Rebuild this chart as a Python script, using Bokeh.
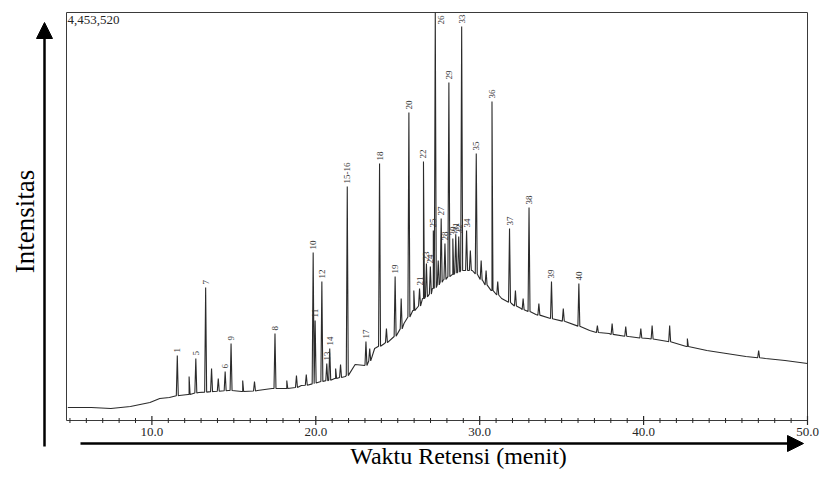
import math
from bokeh.plotting import figure
from bokeh.models import Range1d, Arrow, NormalHead, ColumnDataSource
from bokeh.core.properties import value
from bokeh.embed import file_html
from bokeh.resources import INLINE

# ---------------- data ----------------
Y_MAX = 4453520          # intensity at the top of the frame
X_MIN, X_MAX = 4.79, 50.0  # retention time window (minutes)

# baseline / hump of the trace
base_time = [4.87, 6.30, 7.50, 8.69, 9.28, 9.88, 10.48, 11.07, 11.67, 12.27, 12.86,
             13.76, 14.65, 15.54, 16.44, 17.33, 18.23, 19.12, 20.02, 21.21, 21.80,
             22.40, 23.00, 23.59, 24.19, 24.78, 25.38, 25.98, 26.57, 27.17, 27.76,
             28.36, 28.96, 29.55, 30.15, 30.75, 31.34, 31.94, 32.53, 33.43, 34.32,
             35.22, 36.11, 36.71, 37.90, 39.09, 40.28, 41.48, 42.67, 43.86, 45.05,
             46.24, 47.44, 48.63, 50.00]
base_int = [141900, 141900, 131000, 152800, 174600, 196500, 240100, 251100, 272900,
            283800, 305600, 316500, 327500, 316500, 327500, 349300, 349300, 382000,
            414800, 458500, 480300, 611300, 600300, 785900, 840500, 916900, 1058800,
            1200700, 1331700, 1440800, 1528200, 1593700, 1637300, 1637300, 1528200,
            1419000, 1331700, 1277100, 1222500, 1157000, 1113400, 1080600, 1026100,
            982400, 949600, 916900, 895100, 862300, 807700, 764100, 731300, 698600,
            676800, 654900, 622200]

# labelled peaks
peak_label = ["1", "5", "7", "6", "9", "8", "10", "11", "12", "13", "14", "15-16",
              "17", "18", "19", "20", "21", "22", "23", "24", "25", "26", "27", "28",
              "29", "30", "31", "32", "33", "34", "35", "36", "37", "38", "39", "40"]
peak_time = [11.55, 12.68, 13.28, 14.47, 14.83, 17.51, 19.84, 19.96, 20.37, 20.67,
             20.85, 21.92, 23.06, 23.89, 24.84, 25.68, 26.33, 26.57, 26.75, 26.99,
             27.17, 27.29, 27.65, 27.88, 28.12, 28.36, 28.54, 28.72, 28.90, 29.20,
             29.79, 30.75, 31.82, 33.01, 34.38, 36.05]
peak_top = [709500, 676800, 1451800, 534900, 840500, 949600, 1833800, 1091500,
            1517300, 622200, 785900, 2554200, 862300, 2805300, 1571800, 3362000,
            1440800, 2827100, 1713700, 1681000, 2073900, 4453520, 2204900, 1932000,
            3689400, 1986600, 2030300, 2008400, 4300700, 2073900, 2914400, 3482000,
            2095800, 2325000, 1517300, 1495400]
peak_base = [270000, 300000, 310000, 325000, 327000, 349000, 400000, 410000, 425000,
             435000, 440000, 490000, 600000, 810000, 920000, 1130000, 1250000,
             1330000, 1350000, 1380000, 1440000, 1450000, 1510000, 1540000, 1570000,
             1590000, 1610000, 1620000, 1635000, 1637000, 1600000, 1420000, 1290000,
             1190000, 1110000, 1030000]

# small unlabelled peaks
minor_time = [12.27, 13.64, 14.05, 15.54, 16.26, 18.23, 18.82, 19.42, 21.21, 21.51,
              23.29, 24.31, 25.21, 25.98, 27.47, 29.43, 30.09, 30.39, 31.10, 32.18,
              32.65, 33.61, 35.10, 37.18, 38.08, 38.91, 39.83, 40.52, 41.59, 42.67,
              47.02]
minor_top = [480300, 567600, 458500, 436600, 425700, 436600, 491200, 502100, 567600,
             611300, 785900, 1004200, 1331700, 1419000, 1746500, 1855600, 1746500,
             1637300, 1517300, 1419000, 1331700, 1277100, 1222500, 1037000, 1058800,
             1026000, 1004200, 1037000, 1037000, 895100, 764100]
minor_base = [284000, 315000, 320000, 316000, 322000, 349000, 360000, 385000, 458000,
              470000, 650000, 850000, 1000000, 1200000, 1480000, 1637000, 1540000,
              1480000, 1370000, 1250000, 1210000, 1150000, 1085000, 960000, 940000,
              920000, 900000, 890000, 860000, 808000, 685000]

x_ticks = [10, 20, 30, 40, 50]
x_tick_labels = ["10.0", "20.0", "30.0", "40.0", "50.0"]
x_minor_ticks = [t for t in range(5, 51) if t not in x_ticks]
top_label = "4,453,520"
x_title = "Waktu Retensi (menit)"
y_title = "Intensitas"

# ---------------- layout (pixels of the canvas) ----------------
PX_W, PX_H = 822, 470
BOX_L, BOX_R, BOX_T, BOX_B = 66, 807, 12, 420
SX = (BOX_R - BOX_L) / (X_MAX - X_MIN)
SY = (BOX_B - BOX_T) / Y_MAX


def xd(px):
    return X_MIN + (px - BOX_L) / SX


def yd(py):
    return (BOX_B - py) / SY


# ---------------- build trace from the values above ----------------
HALF_W = 0.06  # drawing half-width of a peak (minutes)
pts = list(zip(base_time, base_int))
for t, b, h in list(zip(peak_time, peak_base, peak_top)) + list(zip(minor_time, minor_base, minor_top)):
    pts += [(t - HALF_W, b), (t, h), (t + HALF_W, b)]
pts.sort(key=lambda q: q[0])
trace = ColumnDataSource(dict(t=[q[0] for q in pts], v=[q[1] for q in pts]))

SERIF = "Liberation Serif"
INK = "#262626"

p = figure(width=PX_W, height=PX_H,
           x_range=Range1d(xd(0), xd(PX_W)), y_range=Range1d(yd(PX_H), yd(0)),
           x_axis_type=None, y_axis_type=None,
           output_backend="svg", toolbar_location=None,
           min_border_left=0, min_border_right=0, min_border_top=0, min_border_bottom=0)
p.grid.visible = False
p.outline_line_color = None
p.background_fill_color = "white"
p.border_fill_color = "white"

# chart frame
p.quad(left=[X_MIN], right=[X_MAX], bottom=[0], top=[Y_MAX],
       fill_color=None, line_color="#3a3a3a", line_width=1)

# trace
p.line("t", "v", source=trace, line_color="#2b2b2b", line_width=1.1)

# peak labels
big = [i for i, h in enumerate(peak_top) if h >= 0.97 * Y_MAX]
normal = [i for i in range(len(peak_top)) if i not in big]
lab_src = ColumnDataSource(dict(t=[peak_time[i] for i in normal],
                                v=[peak_top[i] for i in normal],
                                s=[peak_label[i] for i in normal]))
p.text("t", "v", text="s", source=lab_src, angle=math.pi / 2,
       text_align="left", text_baseline="middle", y_offset=-3,
       text_font=value(SERIF), text_font_size="9px", text_color="#333333")
big_src = ColumnDataSource(dict(t=[peak_time[i] for i in big],
                                v=[peak_top[i] for i in big],
                                s=[peak_label[i] for i in big]))
p.text("t", "v", text="s", source=big_src, angle=math.pi / 2,
       text_align="right", text_baseline="middle", x_offset=6, y_offset=3,
       text_font=value(SERIF), text_font_size="9px", text_color="#333333")

# x axis ticks and tick labels
p.scatter(x=x_minor_ticks, y=[0] * len(x_minor_ticks), marker="dash", angle=math.pi / 2,
          size=5, line_color=INK, line_width=1)
p.scatter(x=x_ticks, y=[0] * len(x_ticks), marker="dash", angle=math.pi / 2,
          size=9, line_color=INK, line_width=1.2)
p.text(x=x_ticks, y=[0] * len(x_ticks), text=x_tick_labels,
       text_align="center", text_baseline="top", y_offset=7,
       text_font=value(SERIF), text_font_size="13px", text_color=INK)

# value at top of frame
p.text(x=[X_MIN], y=[Y_MAX], text=[top_label], text_align="left", text_baseline="top",
       x_offset=1, y_offset=3, text_font=value(SERIF), text_font_size="13px",
       text_color=INK)

# axis titles
p.text(x=[xd(458)], y=[yd(455)], text=[x_title], text_align="center",
       text_baseline="middle", text_font=value(SERIF), text_font_size="24px",
       text_color="black")
p.text(x=[xd(24)], y=[yd(221)], text=[y_title], angle=math.pi / 2, text_align="center",
       text_baseline="middle", text_font=value(SERIF), text_font_size="27px",
       text_color="black")

# axis arrows
p.add_layout(Arrow(x_start=xd(44), y_start=yd(446), x_end=xd(44), y_end=yd(22),
                   line_width=2.5, line_color="black",
                   end=NormalHead(size=16, fill_color="black", line_color="black")))
p.add_layout(Arrow(x_start=xd(80), y_start=yd(443), x_end=xd(803), y_end=yd(443),
                   line_width=2.5, line_color="black",
                   end=NormalHead(size=16, fill_color="black", line_color="black")))

open("out.html", "w").write(file_html(p, INLINE))
